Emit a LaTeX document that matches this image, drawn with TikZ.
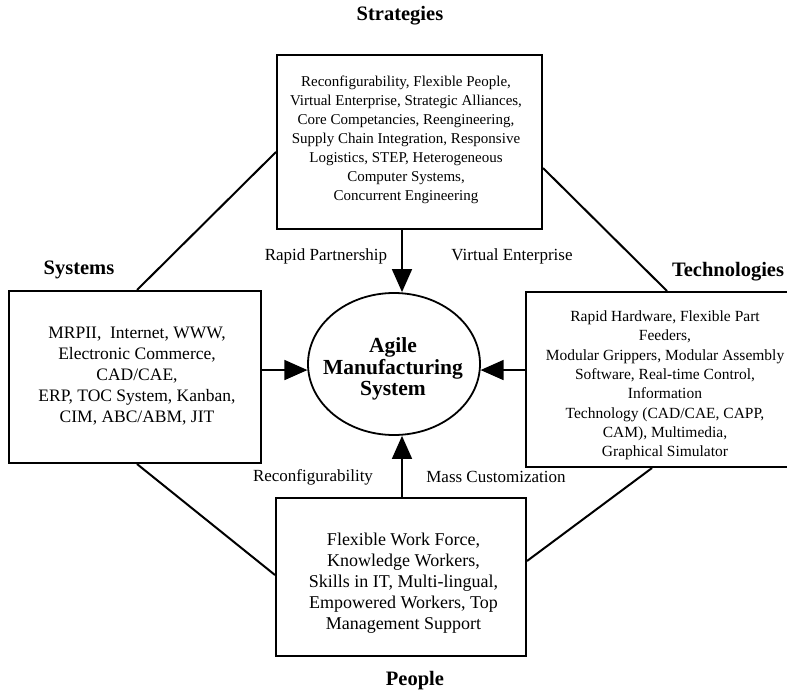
\documentclass[tikz,border=0pt]{standalone}
\usepackage{fontspec}
\setmainfont{Liberation Serif}
\usetikzlibrary{arrows.meta,shapes.geometric}

\begin{document}
\begin{tikzpicture}[x=1pt,y=-1pt,
  box/.style={draw,line width=2pt,inner sep=0pt},
  link/.style={line width=2pt},
  feed/.style={line width=1.6pt,-{Triangle[length=23pt,width=20pt]}},
  txt/.style={align=center,inner sep=0pt},
  head/.style={inner sep=0pt,font=\fontsize{20.5}{24}\selectfont\bfseries},
  lab/.style={inner sep=0pt,font=\fontsize{17}{20}\selectfont}
]
\useasboundingbox (0,0) rectangle (787,693);

% boxes
\node[box,minimum width=265pt,minimum height=174pt] (T) at (409.5,142) {};
\node[box,minimum width=252pt,minimum height=172pt] (L) at (135,377) {};
\node[box,minimum width=278pt,minimum height=175pt] (R) at (665,379.5) {};
\node[box,minimum width=250pt,minimum height=158pt] (B) at (401,577) {};
\node[draw,ellipse,line width=1.8pt,inner sep=0pt,minimum width=172pt,minimum height=142pt] (E) at (394,364) {};

% box texts
\node[txt,font=\fontsize{15}{19}\selectfont] (Tt) at (406,140) {Reconfigurability, Flexible People,\\Virtual Enterprise, Strategic Alliances,\\Core Competancies, Reengineering,\\Supply Chain Integration, Responsive\\Logistics, STEP, Heterogeneous\\Computer Systems,\\Concurrent Engineering};
\node[txt,font=\fontsize{17.5}{21}\selectfont] (Lt) at (137,376) {MRPII,\ \ Internet, WWW,\\Electronic Commerce,\\CAD/CAE,\\ERP, TOC System, Kanban,\\CIM, ABC/ABM, JIT};
\node[txt,font=\fontsize{15.5}{19.3}\selectfont] (Rt) at (665,385.5) {Rapid Hardware, Flexible Part\\Feeders,\\Modular Grippers, Modular Assembly\\Software, Real-time Control,\\Information\\Technology (CAD/CAE, CAPP,\\CAM), Multimedia,\\Graphical Simulator};
\node[txt,font=\fontsize{18}{21}\selectfont] (Bt) at (403.5,583) {Flexible Work Force,\\Knowledge Workers,\\Skills in IT, Multi-lingual,\\Empowered Workers, Top\\Management Support};
\node[txt,font=\fontsize{21.5}{21.5}\selectfont\bfseries] (Et) at (393,369) {Agile\\Manufacturing\\System};

% headers
\node[head] (hS) at (400,16) {Strategies};
\node[head] (hY) at (79,270) {Systems};
\node[head] (hT) at (728,272) {Technologies};
\node[head] (hP) at (415,681) {People};

% arrow labels
\node[lab] (l1) at (326,256) {Rapid Partnership};
\node[lab] (l2) at (512,256) {Virtual Enterprise};
\node[lab] (l3) at (313,477) {Reconfigurability};
\node[lab] (l4) at (496,477) {Mass Customization};

% diagonals
\draw[link] ([yshift=-10pt]T.west) -- ([xshift=2pt]L.north);
\draw[link] ([yshift=-26pt]T.east) -- ([xshift=2pt]R.north);
\draw[link] ([xshift=2pt]L.south) -- ([yshift=2pt]B.west);
\draw[link] ([xshift=-13pt]R.south) -- ([yshift=16pt]B.east);

% arrows into the ellipse
\draw[feed] ([xshift=-7.5pt]T.south) -- ([xshift=8pt]E.north);
\draw[feed] ([xshift=1pt]B.north) -- ([xshift=8pt]E.south);
\draw[feed] ([yshift=7pt]L.east) -- (E.184);
\draw[feed] ([yshift=9.5pt]R.west) -- (E.356);
\end{tikzpicture}
\end{document}
